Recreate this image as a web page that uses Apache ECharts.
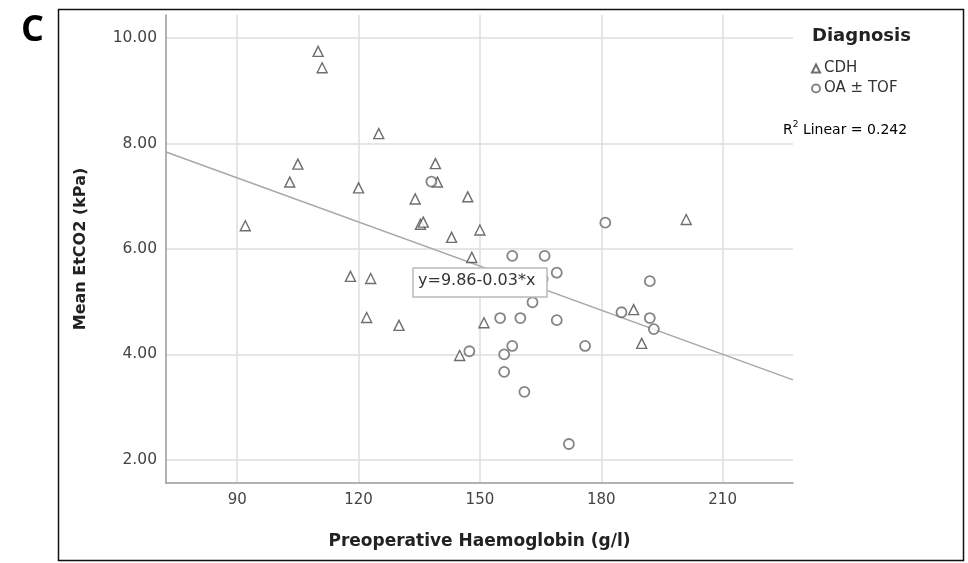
<!DOCTYPE html>
<html>
<head>
<meta charset="utf-8">
<script src="https://cdn.jsdelivr.net/npm/echarts@6/dist/echarts.min.js"></script>
<style>
  html, body { margin: 0; padding: 0; background: #fff; }
  #main { width: 968px; height: 563px; }
</style>
</head>
<body>
<div id="main"></div>
<script>
// CDH (triangles)
var cdhX = [110, 111, 125, 105, 103, 120, 139, 139.5, 134, 147, 135.3, 136, 92, 143, 150, 148, 118, 123, 122, 130, 151, 145, 201, 188, 190];
var cdhY = [9.75, 9.44, 8.19, 7.61, 7.27, 7.16, 7.62, 7.27, 6.95, 6.99, 6.47, 6.51, 6.44, 6.22, 6.36, 5.84, 5.48, 5.44, 4.70, 4.55, 4.60, 3.98, 6.56, 4.85, 4.21];
// OA ± TOF (circles)
var oaX = [138, 147.4, 181, 158, 166, 169, 192, 163, 185, 155, 160, 169, 192, 193, 158, 156, 176, 156, 161, 172, 165.5];
var oaY = [7.28, 4.06, 6.50, 5.87, 5.87, 5.55, 5.39, 4.99, 4.80, 4.69, 4.69, 4.65, 4.69, 4.48, 4.16, 4.00, 4.16, 3.67, 3.29, 2.30, 5.43];

var xTicks = [90, 120, 150, 180, 210];
var yTicks = [2, 4, 6, 8, 10];
var xMin = 72.4, xMax = 227.4;
var yMin = 1.56, yMax = 10.44;

// fit line y = a + b*x
var fitA = 9.86, fitB = -0.0279;
var fitLabel = 'y=9.86-0.03*x';
var r2Text = '0.242';

function zip(xs, ys) {
  var out = [];
  for (var i = 0; i < xs.length; i++) out.push([xs[i], ys[i]]);
  return out;
}

var myChart = echarts.init(document.getElementById('main'));
var labelFont = 'DejaVu Sans';

var option = {
  backgroundColor: '#fff',
  animation: false,
  title: {
    text: 'Diagnosis',
    left: 807, top: 22,
    textStyle: { fontFamily: 'DejaVu Sans', fontWeight: 'bold', fontSize: 18, color: '#222' }
  },
  legend: {
    orient: 'vertical',
    left: 806, top: 56,
    itemWidth: 8, itemHeight: 8,
    itemGap: 5,
    textStyle: { fontFamily: 'DejaVu Sans', fontSize: 15, color: '#333', padding: [0, 0, 0, -1] },
    data: ['CDH', 'OA ± TOF']
  },
  grid: { left: 166, right: 175, top: 15, bottom: 80 },
  xAxis: {
    type: 'value',
    min: xMin, max: xMax,
    name: 'Preoperative Haemoglobin (g/l)',
    nameLocation: 'middle',
    nameGap: 50,
    nameTextStyle: { fontFamily: 'DejaVu Sans', fontWeight: 'bold', fontSize: 17, color: '#222' },
    axisLine: { lineStyle: { color: '#999', width: 1.5 } },
    axisTick: { show: false, customValues: xTicks },
    axisLabel: { customValues: xTicks, fontFamily: labelFont, fontSize: 15, color: '#444', margin: 10 },
    splitLine: { show: true, lineStyle: { color: '#dedede', width: 1.5 } }
  },
  yAxis: {
    type: 'value',
    min: yMin, max: yMax,
    name: 'Mean EtCO2 (kPa)',
    nameLocation: 'middle',
    nameGap: 77,
    nameTextStyle: { fontFamily: 'DejaVu Sans', fontWeight: 'bold', fontSize: 16, color: '#222' },
    axisLine: { show: true, lineStyle: { color: '#999', width: 1.5 } },
    axisTick: { show: false, customValues: yTicks },
    axisLabel: {
      customValues: yTicks, fontFamily: labelFont, fontSize: 15.5, color: '#444', margin: 9,
      formatter: function (v) { return v.toFixed(2); }
    },
    splitLine: { show: true, lineStyle: { color: '#dedede', width: 1.5 } }
  },
  series: [
    {
      name: 'fit',
      type: 'line',
      data: [[xMin, fitA + fitB * xMin], [xMax, fitA + fitB * xMax]],
      showSymbol: false,
      lineStyle: { color: '#a8a8a8', width: 1.4 },
      silent: true,
      z: 1
    },
    {
      name: 'CDH',
      type: 'scatter',
      symbol: 'triangle',
      symbolSize: 10,
      itemStyle: { color: '#fff', borderColor: '#4a4a4a', borderWidth: 1.4 },
      data: zip(cdhX, cdhY),
      z: 3
    },
    {
      name: 'OA ± TOF',
      type: 'scatter',
      symbol: 'circle',
      symbolSize: 10,
      itemStyle: { color: '#fff', borderColor: '#666', borderWidth: 1.8 },
      data: zip(oaX, oaY),
      z: 3
    }
  ],
  graphic: [
    {
      type: 'rect',
      shape: { x: 58.5, y: 9.5, width: 905, height: 551 },
      style: { fill: 'none', stroke: '#111', lineWidth: 1.5 },
      z: 0
    },
    {
      type: 'text',
      left: 21, top: 13,
      style: { text: 'C', font: 'bold 36px "Open Sans"', fill: '#000' }
    },
    {
      type: 'rect',
      shape: { x: 413, y: 268, width: 134, height: 29 },
      style: { fill: '#fff', stroke: '#bbb', lineWidth: 1.5 },
      z: 10
    },
    {
      type: 'text',
      left: 418, top: 273,
      style: { text: fitLabel, font: '16px "DejaVu Sans"', fill: '#333' },
      z: 11
    },
    {
      type: 'text',
      left: 783, top: 120,
      style: {
        text: '{a|R}{s|2}{a| Linear = ' + r2Text + '}',
        rich: {
          a: { fontFamily: 'DejaVu Sans', fontSize: 14, color: '#333', verticalAlign: 'bottom' },
          s: { fontFamily: 'DejaVu Sans', fontSize: 9, color: '#333', verticalAlign: 'top', padding: [0, 0, 8, 0] }
        }
      },
      z: 11
    }
  ]
};
myChart.setOption(option);
</script>
</body>
</html>
